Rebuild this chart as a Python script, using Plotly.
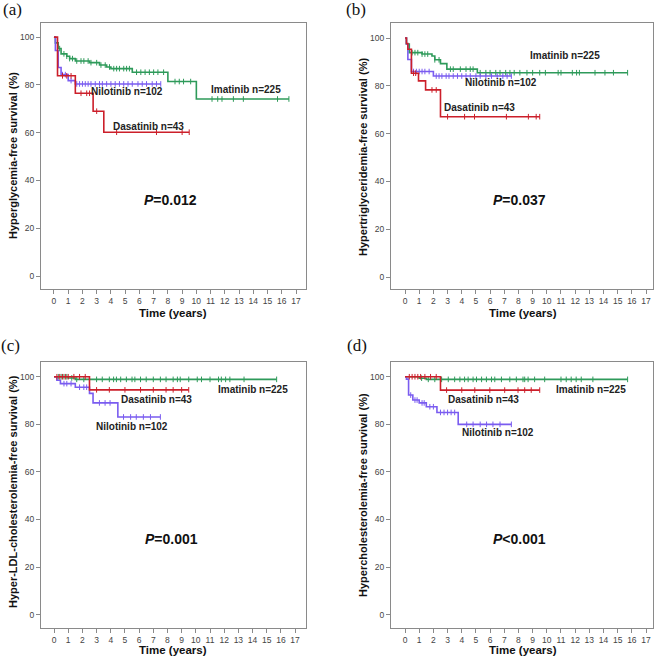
import plotly.graph_objects as go

# ---------------- DATA ----------------
year_ticks = list(range(0, 18))
surv_ticks = [0, 20, 40, 60, 80, 100]

panel_letters = ["(a)", "(b)", "(c)", "(d)"]
y_titles = ["Hyperglycemia-free survival (%)",
            "Hypertriglyceridemia-free survival (%)",
            "Hyper-LDL-cholesterolemia-free survival (%)",
            "Hypercholesterolemia-free survival (%)"]
p_texts = ["<i>P</i>=0.012", "<i>P</i>=0.037", "<i>P</i>=0.001", "<i>P</i>&lt;0.001"]

# Panel (a)
a_ima_t = [0, 0.1, 0.3, 0.5, 0.9, 1.1, 1.5, 2.5, 3.2, 3.7, 4.0, 5.5, 8.0, 10.0]
a_ima_s = [100, 97.6, 95.2, 93.0, 92.0, 91.0, 90.0, 89.3, 88.3, 87.5, 86.8, 85.3, 81.4, 74.1]
a_ima_end = 16.5
a_ima_c = [0.4, 0.7, 0.9, 1.1, 1.3, 1.6, 1.9, 2.1, 2.4, 2.6, 3.0, 3.3, 3.6, 3.9, 4.2, 4.4, 4.6,
           4.9, 5.1, 5.3, 5.8, 6.1, 6.4, 6.7, 7.0, 7.3, 7.7, 8.5, 8.8, 9.1, 9.6, 11.1, 11.5,
           11.8, 12.6, 13.3, 15.7, 16.5]
a_nil_t = [0, 0.1, 0.3, 0.5, 1.0, 1.5]
a_nil_s = [100, 94.4, 87.3, 84.3, 81.8, 80.4]
a_nil_end = 7.5
a_nil_c = [0.6, 0.8, 1.2, 1.6, 1.8, 2.0, 2.2, 2.4, 2.6, 2.9, 3.2, 3.4, 3.7, 4.0, 4.3, 4.6, 4.9,
           5.2, 5.5, 5.9, 6.2, 6.5, 6.9, 7.2, 7.5]
a_das_t = [0, 0.25, 1.5, 2.75, 3.5]
a_das_s = [100, 83.8, 76.5, 69.0, 60.2]
a_das_end = 9.5
a_das_c = [0.6, 0.9, 1.2, 1.9, 2.3, 2.5, 3.0, 4.4, 7.2, 9.0, 9.5]

# Panel (b)
b_ima_t = [0, 0.1, 0.3, 1.2, 1.9, 2.1, 2.5, 2.95, 5.1]
b_ima_s = [100, 97.5, 93.9, 93.3, 92.5, 90.9, 89.3, 87.0, 85.5]
b_ima_end = 15.7
b_ima_c = [0.5, 0.7, 0.9, 1.2, 1.4, 1.6, 2.1, 2.4, 3.2, 3.4, 3.9, 4.3, 4.6, 4.8, 5.3, 5.7,
           6.0, 6.4, 6.7, 7.1, 7.4, 7.7, 8.1, 8.6, 9.0, 9.5, 9.9, 10.8, 11.0, 11.8, 12.1,
           12.3, 13.4, 14.1, 14.7, 15.7]
b_nil_t = [0, 0.1, 0.2, 0.45, 2.0]
b_nil_s = [100, 97.5, 91.0, 86.0, 84.1]
b_nil_end = 7.5
b_nil_c = [0.6, 0.8, 1.0, 1.2, 1.4, 1.7, 2.2, 2.4, 2.6, 2.9, 3.1, 3.4, 3.7, 4.0, 4.3, 4.6,
           5.0, 5.3, 5.7, 6.1, 6.5, 6.9, 7.2, 7.5]
b_das_t = [0, 0.1, 0.2, 0.45, 0.95, 1.45, 2.5]
b_das_s = [100, 97.7, 95.3, 85.3, 82.1, 78.3, 67.1]
b_das_end = 9.5
b_das_c = [0.6, 0.75, 1.9, 2.2, 3.0, 4.2, 4.9, 7.15, 8.7, 9.25, 9.5]

# Panel (c)
c_ima_t = [0, 1.0, 1.5]
c_ima_s = [100, 99.5, 98.9]
c_ima_end = 15.7
c_ima_c = [0.3, 0.5, 0.7, 0.9, 1.25, 1.6, 2.1, 2.5, 3.0, 3.4, 3.9, 4.2, 4.4, 4.7, 5.1, 5.5,
           5.7, 6.1, 6.5, 7.0, 7.5, 7.9, 8.4, 8.7, 8.9, 9.5, 10.1, 10.4, 11.0, 11.6, 11.8,
           12.1, 12.4, 13.4, 15.7]
c_nil_t = [0, 0.2, 0.45, 1.5, 2.5, 2.75, 4.5]
c_nil_s = [100, 98.5, 97.1, 95.6, 93.0, 89.0, 83.1]
c_nil_end = 7.5
c_nil_c = [0.7, 0.9, 1.2, 1.8, 2.1, 2.3, 3.2, 3.6, 3.95, 4.9, 5.4, 5.8, 6.3, 6.8, 7.5]
c_das_t = [0, 2.5]
c_das_s = [100, 94.5]
c_das_end = 9.5
c_das_c = [0.2, 0.4, 0.6, 0.8, 1.0, 1.4, 1.8, 2.2, 3.0, 3.9, 5.0, 6.1, 7.0, 7.9, 8.4, 9.0, 9.5]

# Panel (d)
d_ima_t = [0, 1.0, 1.5]
d_ima_s = [100, 99.4, 98.9]
d_ima_end = 15.7
d_ima_c = [1.17, 1.64, 2.1, 2.58, 3.05, 3.5, 3.87, 4.2, 4.45, 4.8, 5.04, 5.4, 5.74, 6.1,
           6.33, 6.8, 7.39, 7.85, 8.32, 8.44, 8.68, 9.14, 9.85, 11.0, 11.37, 11.72, 12.07,
           12.43, 13.25, 15.7]
d_nil_t = [0, 0.1, 0.25, 0.55, 1.0, 1.5, 2.25, 3.75]
d_nil_s = [100, 99.0, 92.3, 90.2, 89.0, 87.4, 85.0, 80.0]
d_nil_end = 7.5
d_nil_c = [0.4, 0.7, 0.85, 1.2, 1.35, 1.75, 2.0, 2.5, 2.75, 3.0, 3.25, 3.5, 4.35, 4.8,
           5.3, 5.75, 6.2, 6.7, 7.5]
d_das_t = [0, 2.5]
d_das_s = [100, 94.4]
d_das_end = 9.5
d_das_c = [0.3, 0.5, 0.7, 0.9, 1.1, 1.4, 1.8, 2.2, 2.93, 4.0, 4.92, 5.98, 7.03, 7.97, 8.44,
           8.9, 9.5]

# label positions (data coords) per panel: imatinib, nilotinib, dasatinib, P
label_pos = [
    [(13.5, 78.2), (5.15, 77.1), (6.67, 62.8), (8.2, 31.8)],
    [(11.3, 92.9), (6.8, 81.4), (5.28, 71.0), (8.1, 32.2)],
    [(14.0, 94.8), (5.48, 79.1), (7.2, 90.6), (8.26, 32.0)],
    [(13.1, 94.8), (6.57, 76.7), (5.56, 90.6), (8.1, 32.0)],
]
series_names = ["Imatinib n=225", "Nilotinib n=102", "Dasatinib n=43"]

panels = [
    [(a_ima_t, a_ima_s, a_ima_end, a_ima_c), (a_nil_t, a_nil_s, a_nil_end, a_nil_c),
     (a_das_t, a_das_s, a_das_end, a_das_c)],
    [(b_ima_t, b_ima_s, b_ima_end, b_ima_c), (b_nil_t, b_nil_s, b_nil_end, b_nil_c),
     (b_das_t, b_das_s, b_das_end, b_das_c)],
    [(c_ima_t, c_ima_s, c_ima_end, c_ima_c), (c_nil_t, c_nil_s, c_nil_end, c_nil_c),
     (c_das_t, c_das_s, c_das_end, c_das_c)],
    [(d_ima_t, d_ima_s, d_ima_end, d_ima_c), (d_nil_t, d_nil_s, d_nil_end, d_nil_c),
     (d_das_t, d_das_s, d_das_end, d_das_c)],
]

# ---------------- STYLE / LAYOUT ----------------
W, H = 656, 658
colors = ["#2e9a5a", "#7a5cf0", "#cc1f2a"]
draw_order = [0, 1, 2]

# plot boxes in pixels: (left, right, top, bottom)
boxes = [(41, 306, 23, 289), (391, 653, 23, 289), (41, 306, 362, 628), (391, 653, 362, 628)]
xranges = [[-0.91, 17.7], [-0.99, 17.49], [-0.92, 17.77], [-0.99, 17.49]]
yranges = [[-5.4, 105.9], [-5.0, 106.3], [-5.6, 106.2], [-5.6, 106.2]]
letter_px = [(12, 10), (356, 9), (10, 345), (357, 345)]
ytitle_px = [(13, 156), (363, 157), (13, 492), (363, 495)]
xtitle_px = [(173, 313), (523, 313), (173, 650), (523, 650)]

FONT = "Arial, 'Liberation Sans', sans-serif"


def step_val(times, vals, t):
    v = vals[0]
    for ti, vi in zip(times, vals):
        if ti <= t:
            v = vi
    return v


fig = go.Figure()
annotations = []
layout = {}

for i, panel in enumerate(panels):
    sfx = "" if i == 0 else str(i + 1)
    xa, ya = "x" + sfx, "y" + sfx
    l, r, t, b = boxes[i]
    axis_common = dict(showline=True, linecolor="#8a8a8a", linewidth=1, mirror=True,
                       ticks="outside", ticklen=4, tickcolor="#8a8a8a", showgrid=False,
                       zeroline=False, tickfont=dict(family=FONT, size=8.5, color="#444"),
                       fixedrange=True)
    layout["xaxis" + sfx] = dict(axis_common, domain=[l / W, r / W], anchor=ya,
                                 range=xranges[i], tickmode="array", tickvals=year_ticks,
                                 ticktext=[str(v) for v in year_ticks])
    layout["yaxis" + sfx] = dict(axis_common, domain=[1 - b / H, 1 - t / H], anchor=xa,
                                 range=yranges[i], tickmode="array", tickvals=surv_ticks,
                                 ticktext=[str(v) for v in surv_ticks])
    for k in draw_order:
        times, vals, end, cens = panel[k]
        xs = list(times) + [end]
        ys = list(vals) + [vals[-1]]
        fig.add_trace(go.Scatter(x=xs, y=ys, mode="lines", line=dict(color=colors[k], width=1.6,
                                 shape="hv"), xaxis=xa, yaxis=ya, showlegend=False,
                                 hoverinfo="skip"))
        cy = [step_val(times, vals, c) for c in cens]
        fig.add_trace(go.Scatter(x=cens, y=cy, mode="markers",
                                 marker=dict(symbol="line-ns", size=4,
                                             line=dict(color=colors[k], width=1)),
                                 xaxis=xa, yaxis=ya, showlegend=False, hoverinfo="skip"))
    # curve labels
    for k in range(3):
        px, py = label_pos[i][k]
        annotations.append(dict(x=px, y=py, xref=xa, yref=ya, text="<b>%s</b>" % series_names[k],
                                showarrow=False, xanchor="center", yanchor="middle",
                                font=dict(family=FONT, size=10, color="#222")))
    px, py = label_pos[i][3]
    annotations.append(dict(x=px, y=py, xref=xa, yref=ya, text="<b>%s</b>" % p_texts[i],
                            showarrow=False, xanchor="center", yanchor="middle",
                            font=dict(family=FONT, size=14, color="#111")))
    # panel letter
    lx, ly = letter_px[i]
    annotations.append(dict(x=lx / W, y=1 - ly / H, xref="paper", yref="paper",
                            text=panel_letters[i], showarrow=False,
                            xanchor="center", yanchor="middle",
                            font=dict(family="'Liberation Serif', 'Times New Roman', serif",
                                      size=17, color="#111")))
    # y title
    yx, yy = ytitle_px[i]
    annotations.append(dict(x=yx / W, y=1 - yy / H, xref="paper", yref="paper",
                            text="<b>%s</b>" % y_titles[i], textangle=-90, showarrow=False,
                            xanchor="center", yanchor="middle",
                            font=dict(family=FONT, size=11, color="#111")))
    # x title
    tx, ty = xtitle_px[i]
    annotations.append(dict(x=tx / W, y=1 - ty / H, xref="paper", yref="paper",
                            text="<b>Time (years)</b>", showarrow=False,
                            xanchor="center", yanchor="middle",
                            font=dict(family=FONT, size=11.5, color="#111")))

fig.update_layout(width=W, height=H, margin=dict(l=0, r=0, t=0, b=0),
                  paper_bgcolor="white", plot_bgcolor="white",
                  annotations=annotations, **layout)

fig.write_html("out.html", include_plotlyjs=True, config={"displayModeBar": False},
               post_script="document.body.style.margin='0';document.body.style.overflow='hidden';")
